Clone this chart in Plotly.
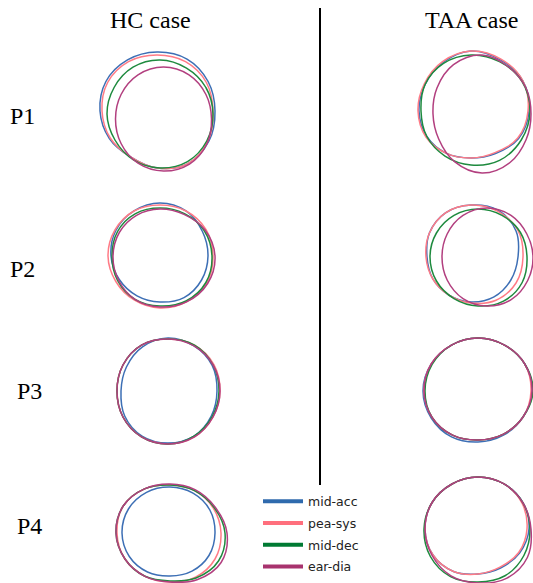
import math
import plotly.graph_objects as go

# ---------------- data ----------------
phases = ["mid-acc", "pea-sys", "mid-dec", "ear-dia"]
cases = ["HC case", "TAA case"]
rows = ["P1", "P2", "P3", "P4"]
theta_deg = [0, 30, 60, 90, 120, 150, 180, 210, 240, 270, 300, 330]

# contour radius at the angles above, measured about each contour's own centre
hc_p1_acc = [58, 59, 60, 59, 59, 59, 57, 55, 53, 57, 61, 60]
hc_p1_sys = [56, 57, 57, 56, 57, 57, 55, 54, 53, 57, 61, 59]
hc_p1_dec = [53, 53, 53, 54, 54, 53, 53, 52, 53, 54, 55, 54]
hc_p1_dia = [48, 49, 51, 52, 51, 49, 48, 49, 51, 52, 52, 50]
# centre shift of each contour (right, down) relative to the panel centre
hc_p1_shift = [(0, 0), (0, 0), (3, 3), (6.5, 8)]

taa_p1_acc = [58, 60, 59, 60, 56, 53, 52, 51, 49, 47, 49, 55]
taa_p1_sys = [57, 60, 60, 60, 57, 54, 53, 52, 49, 47, 48, 54]
taa_p1_dec = [59, 59, 57, 56, 55, 53, 50, 51, 52, 54, 57, 58]
taa_p1_dia = [49, 51, 54, 59, 57, 52, 49, 50, 55, 59, 56, 51]
taa_p1_shift = [(0, 0), (0, 0), (0, 0), (11, 3)]

hc_p2_acc = [48, 49, 52, 53, 52, 51, 49, 47, 46, 46, 48, 48]
hc_p2_sys = [53, 53, 52, 51, 52, 52, 52, 51, 51, 52, 53, 54]
hc_p2_dec = [52, 51, 49, 48, 49, 49, 48, 49, 50, 50, 52, 53]
hc_p2_dia = [55, 52, 48, 47, 47, 47, 47, 48, 50, 51, 53, 55]
hc_p2_shift = [(0, 0), (0, 0), (0, 0), (0, 0)]

taa_p2_acc = [47, 52, 54, 52, 51, 48, 44, 44, 44, 45, 46, 46]
taa_p2_sys = [52, 54, 53, 52, 51, 48, 45, 44, 44, 46, 50, 52]
taa_p2_dec = [49, 49, 48, 48, 48, 48, 48, 48, 48, 49, 51, 51]
taa_p2_dia = [46, 46, 48, 49, 48, 46, 45, 46, 48, 49, 49, 47]
taa_p2_shift = [(0, 0), (0, 0), (7, 0), (16, 0)]

hc_p3_acc = [49, 51, 52, 53, 51, 48, 47, 50, 52, 52, 52, 50]
hc_p3_sys = [52, 53, 53, 52, 53, 52, 51, 52, 53, 53, 53, 52]
hc_p3_dec = [51, 52, 53, 52, 53, 52, 51, 52, 53, 53, 52, 51]
hc_p3_dia = [52, 52, 52, 52, 53, 52, 51, 52, 53, 53, 53, 52]
hc_p3_shift = [(0, 0), (0, 0), (0, 0), (0, 0)]

taa_p3_acc = [54, 54, 53, 53, 53, 54, 55, 54, 53, 51, 51, 52]
taa_p3_sys = [53, 54, 53, 53, 53, 54, 54, 53, 51, 49, 50, 52]
taa_p3_dec = [55, 54, 53, 53, 53, 53, 53, 53, 51, 49, 50, 52]
taa_p3_dia = [54, 54, 53, 53, 53, 54, 54, 53, 51, 49, 50, 52]
taa_p3_shift = [(0, 0), (0, 0), (0, 0), (0, 0)]

hc_p4_acc = [45, 46, 46, 46, 47, 48, 48, 47, 45, 43, 44, 45]
hc_p4_sys = [51, 50, 49, 48, 51, 54, 53, 52, 50, 49, 51, 52]
hc_p4_dec = [55, 51, 49, 48, 51, 54, 54, 52, 50, 48, 52, 56]
hc_p4_dia = [57, 52, 50, 49, 51, 54, 54, 52, 50, 49, 54, 59]
hc_p4_shift = [(0, 0), (0, 0), (0, 0), (0, 0)]

taa_p4_acc = [51, 52, 52, 52, 52, 53, 53, 52, 49, 45, 45, 48]
taa_p4_sys = [49, 51, 52, 52, 52, 53, 53, 52, 49, 45, 44, 47]
taa_p4_dec = [52, 52, 52, 52, 52, 53, 54, 55, 55, 53, 54, 53]
taa_p4_dia = [53, 52, 52, 52, 52, 53, 53, 53, 54, 54, 57, 57]
taa_p4_shift = [(0, 0), (0, 0), (0, 0), (0, 0)]

panels = {
    ("HC case", "P1"): ([hc_p1_acc, hc_p1_sys, hc_p1_dec, hc_p1_dia], hc_p1_shift),
    ("TAA case", "P1"): ([taa_p1_acc, taa_p1_sys, taa_p1_dec, taa_p1_dia], taa_p1_shift),
    ("HC case", "P2"): ([hc_p2_acc, hc_p2_sys, hc_p2_dec, hc_p2_dia], hc_p2_shift),
    ("TAA case", "P2"): ([taa_p2_acc, taa_p2_sys, taa_p2_dec, taa_p2_dia], taa_p2_shift),
    ("HC case", "P3"): ([hc_p3_acc, hc_p3_sys, hc_p3_dec, hc_p3_dia], hc_p3_shift),
    ("TAA case", "P3"): ([taa_p3_acc, taa_p3_sys, taa_p3_dec, taa_p3_dia], taa_p3_shift),
    ("HC case", "P4"): ([hc_p4_acc, hc_p4_sys, hc_p4_dec, hc_p4_dia], hc_p4_shift),
    ("TAA case", "P4"): ([taa_p4_acc, taa_p4_sys, taa_p4_dec, taa_p4_dia], taa_p4_shift),
}

# ---------------- layout / style ----------------
W, H = 533, 583
colors = ["#3d6fb5", "#ff7b86", "#1e8a3e", "#b23f7f"]
legend_colors = ["#2f6aad", "#ff6f7d", "#007a33", "#a8336e"]

panel_centers = {
    ("HC case", "P1"): (157, 111), ("TAA case", "P1"): (471, 111),
    ("HC case", "P2"): (160, 256), ("TAA case", "P2"): (471, 257),
    ("HC case", "P3"): (168, 391), ("TAA case", "P3"): (478, 391),
    ("HC case", "P4"): (170, 533), ("TAA case", "P4"): (478, 529),
}
title_pos = {"HC case": (150, 20), "TAA case": (471, 20)}
row_label_pos = {"P1": (8, 116), "P2": (8, 269), "P3": (15, 391), "P4": (15, 526)}

fig = go.Figure()
for case in cases:
    for row in rows:
        cx, cy = panel_centers[(case, row)]
        radii, shifts = panels[(case, row)]
        for i, r in enumerate(radii):
            sx, sy = shifts[i]
            th = theta_deg + [theta_deg[0]]
            rr = r + [r[0]]
            xs = [cx + sx + rv * math.cos(math.radians(t)) for rv, t in zip(rr, th)]
            ys = [cy + sy - rv * math.sin(math.radians(t)) for rv, t in zip(rr, th)]
            fig.add_trace(go.Scatter(
                x=xs, y=ys, mode="lines",
                line=dict(color=colors[i], width=1.5, shape="spline", smoothing=1.1),
                cliponaxis=False, showlegend=False, hoverinfo="skip",
            ))

# legend entries
for i, ph in enumerate(phases):
    fig.add_trace(go.Scatter(
        x=[None], y=[None], mode="lines", name=ph, legendgroup=ph,
        line=dict(color=legend_colors[i], width=4), showlegend=True,
    ))

annotations = []
for case in cases:
    x, y = title_pos[case]
    annotations.append(dict(text=case, x=x, y=y, xref="x", yref="y",
                            xanchor="center", yanchor="middle", showarrow=False,
                            font=dict(family="Liberation Serif", size=24, color="black")))
for row in rows:
    x, y = row_label_pos[row]
    annotations.append(dict(text=row, x=x, y=y, xref="x", yref="y",
                            xanchor="left", yanchor="middle", showarrow=False,
                            font=dict(family="Liberation Serif", size=24, color="black")))

fig.update_layout(
    width=W, height=H, margin=dict(l=0, r=0, t=0, b=0),
    paper_bgcolor="white", plot_bgcolor="white",
    xaxis=dict(range=[0, W], visible=False, fixedrange=True),
    yaxis=dict(range=[H, 0], visible=False, fixedrange=True),
    annotations=annotations,
    shapes=[dict(type="line", xref="x", yref="y",
                 x0=320, x1=320, y0=8, y1=485,
                 line=dict(color="black", width=2))],
    legend=dict(x=258 / W, y=1 - 486.5 / H, xanchor="left", yanchor="top",
                font=dict(family="DejaVu Sans", size=12.5, color="#222"),
                bgcolor="rgba(0,0,0,0)", itemwidth=40, tracegroupgap=2.5,
                traceorder="grouped"),
)

fig.write_html("out.html", config={"displayModeBar": False},
               post_script="document.body.style.margin='0px';")
